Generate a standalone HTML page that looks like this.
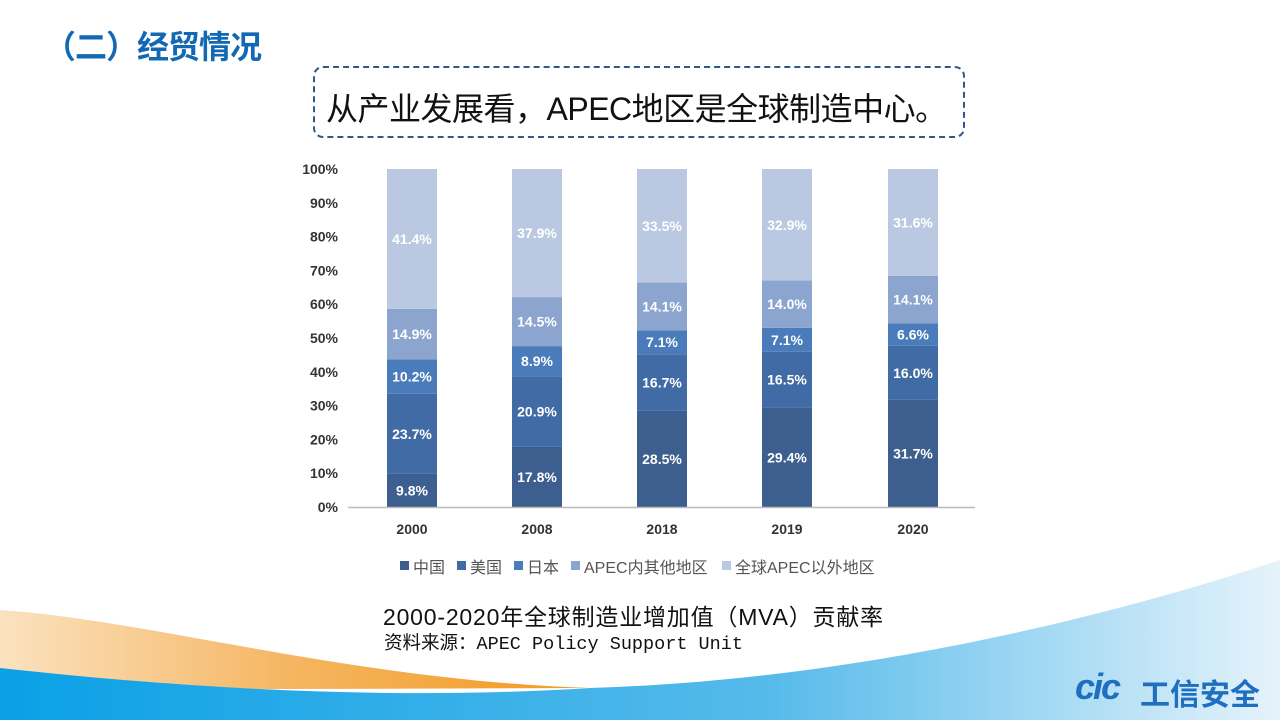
<!DOCTYPE html>
<html><head><meta charset="utf-8"><style>
body{margin:0;width:1280px;height:720px;overflow:hidden;background:#fff;font-family:"Liberation Sans","Noto Sans CJK SC",sans-serif;position:relative}
.t{position:absolute;left:44px;top:22px;font-size:32px;font-weight:bold;color:#1268b3;white-space:nowrap;letter-spacing:-1px}
.box{position:absolute;left:313px;top:66px;width:652px;height:72px;border:2px dashed #2e5a8a;border-radius:10px;box-sizing:border-box}
.box span{position:absolute;left:11px;top:16px;font-size:32px;color:#111;white-space:nowrap;letter-spacing:-0.5px}
</style></head><body>
<svg width="1280" height="720" style="position:absolute;left:0;top:0">
<defs>
<linearGradient id="o" x1="0" x2="1"><stop offset="0" stop-color="#fbe2c0"/><stop offset="0.5" stop-color="#f5b560"/><stop offset="1" stop-color="#f29a20"/></linearGradient>
<linearGradient id="b" x1="0" x2="1"><stop offset="0" stop-color="#0aa0e6"/><stop offset="0.6" stop-color="#55baea"/><stop offset="1" stop-color="#e6f3fb"/></linearGradient>
</defs>
<path d="M0,610 C150,620 350,680 590,688 L0,690 Z" fill="url(#o)"/>
<path d="M0,668 C200,690 400,700 590,688 C850,680 1100,620 1280,560 L1280,720 L0,720 Z" fill="url(#b)"/>
<g id="ch" font-family="Liberation Sans, sans-serif"></g>
</svg>
<div class="t">（二）经贸情况</div>
<div class="box"><span>从产业发展看，APEC地区是全球制造中心。</span></div>
<div style="position:absolute;left:383px;top:598px;font-size:23px;color:#111;white-space:nowrap;letter-spacing:0.8px">2000-2020年全球制造业增加值（MVA）贡献率</div>
<div style="position:absolute;left:384px;top:629px;font-size:18.5px;color:#111;font-family:'Liberation Mono','Noto Sans CJK SC',monospace;white-space:nowrap">资料来源：APEC Policy Support Unit</div>
<div style="position:absolute;left:1075px;top:666px;font-size:36px;font-weight:bold;font-style:italic;color:#1f6fc0;letter-spacing:-2px">cic</div>
<div style="position:absolute;left:1140px;top:670px;font-size:30px;font-weight:bold;color:#1f6fc0;white-space:nowrap">工信安全</div>
<script>
var g=document.getElementById('ch'),s='';
var cols=['#3c5f8f','#416ba5','#4a7cbb','#8ba5cf','#bac9e1'];
var d=[['2000',[9.8,23.7,10.2,14.9,41.4]],['2008',[17.8,20.9,8.9,14.5,37.9]],['2018',[28.5,16.7,7.1,14.1,33.5]],['2019',[29.4,16.5,7.1,14.0,32.9]],['2020',[31.7,16.0,6.6,14.1,31.6]]];
var y0=507,k=3.38;
for(var i=0;i<=10;i++){var y=y0-i*10*k;s+='<text x="338" y="'+(y+5)+'" text-anchor="end" font-size="14" font-weight="bold" fill="#333">'+(i*10)+'%</text>';}
var xs=[387,512,637,762,888];
d.forEach(function(r,j){var c=0,x=xs[j];
r[1].forEach(function(v,n){var vv=(n==4)?(100-c):v;var yt=y0-(c+vv)*k,h=vv*k;
s+='<rect x="'+x+'" y="'+yt+'" width="50" height="'+h+'" fill="'+cols[n]+'"/>';
s+='<text x="'+(x+25)+'" y="'+(yt+h/2+5)+'" text-anchor="middle" font-size="14" font-weight="bold" fill="#fff">'+v.toFixed(1)+'%</text>';c+=vv;});
s+='<text x="'+(x+25)+'" y="534" text-anchor="middle" font-size="14" font-weight="bold" fill="#333">'+r[0]+'</text>';});
s+='<line x1="348" y1="507.5" x2="975" y2="507.5" stroke="#bbb" stroke-width="1.5"/>';
var lg=[['中国',400],['美国',457],['日本',514],['APEC内其他地区',571],['全球APEC以外地区',722]];
lg.forEach(function(l,n){s+='<rect x="'+l[1]+'" y="561" width="9" height="9" fill="'+cols[n]+'"/><text x="'+(l[1]+13)+'" y="573" font-size="16" fill="#555" font-family="Liberation Sans, Noto Sans CJK SC, sans-serif">'+l[0]+'</text>';});
g.innerHTML=s;
</script>
</body></html>
